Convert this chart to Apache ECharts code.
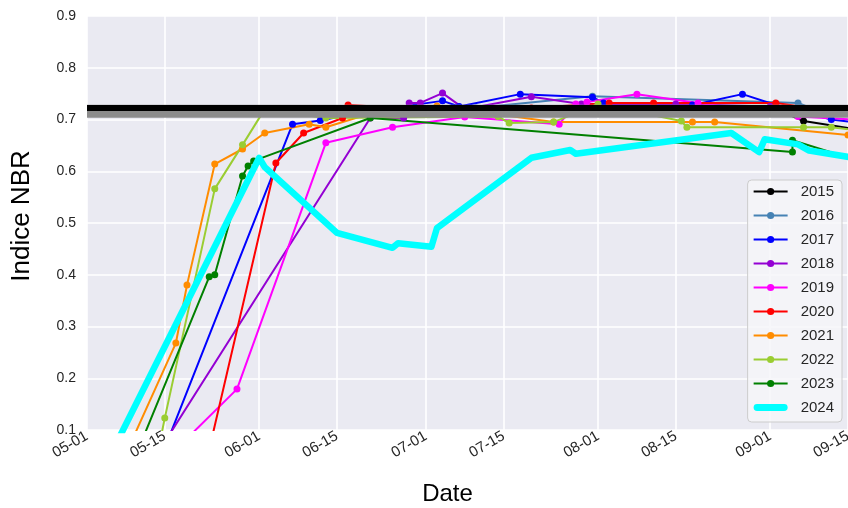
<!DOCTYPE html>
<html>
<head>
<meta charset="utf-8">
<script src="https://cdn.jsdelivr.net/npm/echarts@6/dist/echarts.min.js"></script>
<style>
html,body{margin:0;padding:0;background:#ffffff;}
#chart{width:848px;height:508px;}
</style>
</head>
<body>
<div id="chart"></div>
<script>
// ---------- data (month-day, NBR value) ----------
const years  = ['2015','2016','2017','2018','2019','2020','2021','2022','2023','2024'];
const colors = ['#000000','#4682B4','#0000FF','#9400D3','#FF00FF','#FF0000','#FF8C00','#9ACD32','#008000','#00FFFF'];

const d2015 = ['07-01','08-10','09-02','09-07','09-20'];
const v2015 = [0.720, 0.720, 0.720, 0.697, 0.675];

const d2016 = ['06-20','07-10','07-31','09-06','09-10'];
const v2016 = [0.720, 0.722, 0.745, 0.732, 0.715];

const d2017 = ['05-15','06-07','06-12','06-20','07-04','07-07','07-18','07-31','08-02','08-18','08-27','09-02','09-12','09-20'];
const v2017 = [0.065, 0.691, 0.698, 0.715, 0.736, 0.725, 0.749, 0.743, 0.732, 0.728, 0.749, 0.728, 0.700, 0.690];

const d2018 = ['05-15','06-21','06-27','06-28','06-30','07-04','07-08','07-20','07-29','08-15','09-01','09-15'];
const v2018 = [0.077, 0.703, 0.703, 0.732, 0.732, 0.751, 0.720, 0.744, 0.730, 0.730, 0.725, 0.720];

const d2019 = ['05-18','05-28','06-13','06-25','07-08','07-25','07-28','07-30','08-08','08-19','09-06','09-16'];
const v2019 = [0.073, 0.179, 0.655, 0.685, 0.705, 0.691, 0.730, 0.734, 0.749, 0.732, 0.706, 0.700];

const d2020 = ['05-21','06-04','06-09','06-16','06-17','07-01','07-20','08-03','08-11','09-02','09-10'];
const v2020 = [-0.030, 0.616, 0.674, 0.703, 0.728, 0.720, 0.722, 0.732, 0.732, 0.732, 0.720];

const d2021 = ['05-07','05-17','05-19','05-24','05-29','06-02','06-10','06-13','06-22','07-03','07-24','08-18','08-22','09-15'];
const v2021 = [0.030, 0.268, 0.380, 0.614, 0.643, 0.674, 0.691, 0.685, 0.715, 0.726, 0.695, 0.695, 0.695, 0.670];

const d2022 = ['05-14','05-15','05-24','05-29','06-02','06-13','07-14','07-16','07-24','08-01','08-16','08-17','09-07','09-12','09-18'];
const v2022 = [0.070, 0.123, 0.566, 0.651, 0.720, 0.703, 0.706, 0.693, 0.695, 0.730, 0.697, 0.685, 0.685, 0.685, 0.677];

const d2023 = ['05-09','05-23','05-24','05-29','05-30','05-31','06-21','09-05','09-05','09-20'];
const v2023 = [0.030, 0.396, 0.400, 0.591, 0.610, 0.620, 0.703, 0.637, 0.660, 0.610];

const d2024 = ['05-06','06-01','06-02','06-15','06-25','06-26','07-02','07-03','07-20','07-27','07-28','08-25','08-30','08-31','09-06','09-08','09-16'];
const v2024 = [0.068, 0.626, 0.608, 0.481, 0.452, 0.461, 0.454, 0.490, 0.626, 0.641, 0.634, 0.674, 0.637, 0.662, 0.652, 0.640, 0.626];

const refBlack = 0.722;   // reference level (black line)
const refGrey  = 0.716;   // reference level (grey band)

const xTicks = ['05-01','05-15','06-01','06-15','07-01','07-15','08-01','08-15','09-01','09-15'];
const xMin = '05-01', xMax = '09-15';
const yMin = 0.1, yMax = 0.9, yStep = 0.1;

const FONT = 'Liberation Sans';

// ---------- build ----------
// month-day -> UTC timestamp in a common year
function ts(md){ const p = md.split('-'); return Date.UTC(2024, +p[0]-1, +p[1]); }
function pad(n){ return (n<10?'0':'')+n; }
function fmt(v){ const d = new Date(v); return pad(d.getUTCMonth()+1)+'-'+pad(d.getUTCDate()); }

const dates = [d2015,d2016,d2017,d2018,d2019,d2020,d2021,d2022,d2023,d2024];
const vals  = [v2015,v2016,v2017,v2018,v2019,v2020,v2021,v2022,v2023,v2024];
function pairs(md, v){ return md.map((m,i)=>[ts(m), v[i]]); }

const series = [];
for (let i = 0; i < 9; i++) {
  series.push({
    name: years[i], type: 'line', data: pairs(dates[i], vals[i]),
    symbol: 'circle', symbolSize: 7, showSymbol: true, clip: true,
    lineStyle: {color: colors[i], width: 2},
    itemStyle: {color: colors[i]},
    emphasis: {disabled: true}, z: 2
  });
}
series.push({
  name: 'refGrey', type: 'line', data: [[ts(xMin), refGrey],[ts(xMax), refGrey]],
  symbol: 'none', lineStyle: {color: '#8c8c8c', width: 13, cap: 'butt'},
  emphasis: {disabled: true}, z: 3, silent: true
});
series.push({
  name: 'refBlack', type: 'line', data: [[ts(xMin), refBlack],[ts(xMax), refBlack]],
  symbol: 'none', lineStyle: {color: '#000000', width: 6, cap: 'butt'},
  emphasis: {disabled: true}, z: 3, silent: true
});
series.push({
  name: years[9], type: 'line', data: pairs(dates[9], vals[9]),
  symbol: 'none', showSymbol: false, clip: true,
  lineStyle: {color: colors[9], width: 6.5, cap: 'round', join: 'round'},
  itemStyle: {color: colors[9]},
  emphasis: {disabled: true}, z: 4
});

const legendData = years.map((y, i) => i === 9
  ? {name: y, icon: 'path://M4,0 L36,0 A4,4 0 0 1 36,8 L4,8 A4,4 0 0 1 4,0 Z'}
  : {name: y});

const chart = echarts.init(document.getElementById('chart'), null, {renderer: 'canvas'});
chart.setOption({
  animation: false,
  backgroundColor: '#ffffff',
  textStyle: {fontFamily: FONT},
  grid: {left: 87, right: 0, top: 16, bottom: 78, show: true, backgroundColor: '#EAEAF2', borderWidth: 0,
         containLabel: false, outerBoundsMode: 'none'},
  legend: {
    data: legendData, orient: 'vertical', right: 6, top: 180,
    itemWidth: 34, itemHeight: 9, itemGap: 9,
    padding: [4, 8, 7, 5],
    backgroundColor: 'rgba(246,246,249,0.85)', borderColor: '#cccccc', borderWidth: 1, borderRadius: 4,
    textStyle: {fontSize: 15, lineHeight: 15, color: '#262626', fontFamily: FONT, padding: [0, 0, 0, 8]},
    selectedMode: false
  },
  xAxis: {
    type: 'value', min: ts(xMin), max: ts(xMax),
    name: 'Date', nameLocation: 'middle', nameGap: 52,
    nameTextStyle: {fontSize: 24, color: '#000000', fontFamily: FONT, padding: [0, 40, 0, 0]},
    axisLine: {show: false},
    axisTick: {show: false, customValues: xTicks.map(ts)},
    axisLabel: {
      customValues: xTicks.map(ts),
      rotate: 30, margin: 5, fontSize: 15, color: '#262626', fontFamily: FONT,
      formatter: fmt
    },
    splitLine: {show: true, lineStyle: {color: '#ffffff', width: 1.6}}
  },
  yAxis: {
    type: 'value', min: yMin, max: yMax, interval: yStep,
    name: 'Indice NBR', nameLocation: 'middle', nameGap: 52, nameRotate: 90,
    nameTextStyle: {fontSize: 26, color: '#000000', fontFamily: FONT, padding: [0, 0, 0, 14]},
    axisLine: {show: false}, axisTick: {show: false},
    axisLabel: {margin: 11, fontSize: 14, color: '#262626', fontFamily: FONT,
                formatter: function(v){ return v.toFixed(1); }},
    splitLine: {show: true, lineStyle: {color: '#ffffff', width: 1.6}}
  },
  series: series
});
</script>
</body>
</html>
